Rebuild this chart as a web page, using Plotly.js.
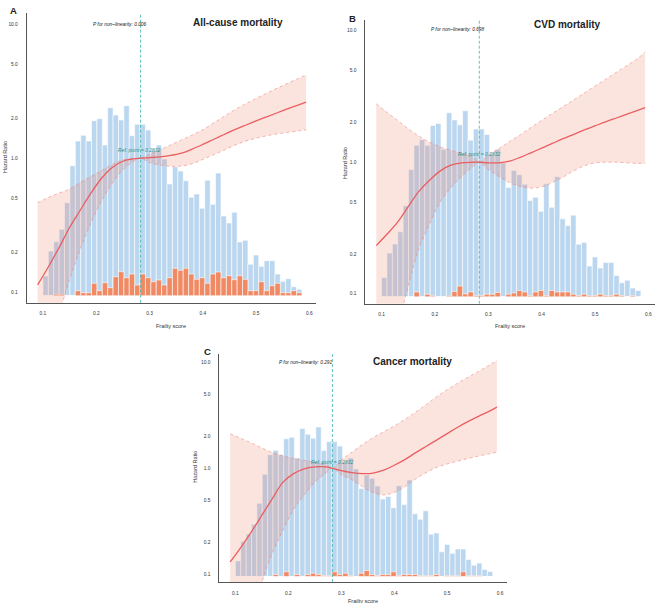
<!DOCTYPE html>
<html>
<head>
<meta charset="utf-8">
<script src="https://cdn.plot.ly/plotly-3.0.1.min.js"></script>
<style>html,body{margin:0;padding:0;background:#fff;}#chart{width:669px;height:603px;}</style>
</head>
<body>
<div id="chart"></div>
<script>
// ---------------- DATA ----------------
// Histogram of frailty score (48 bins starting at 0.10)
const binStart = 0.1;
const binWidth = 0.010125;
const totalCount = [197,447,540,664,930,1300,1547,1604,1547,1750,
  1770,1507,1880,1807,1757,1900,1600,1714,1714,1657,
  1457,1507,1367,1117,1290,1247,1150,984,1017,874,
  1154,914,1227,797,727,834,537,554,314,407,
  294,350,350,217,144,170,90,64];
const eventsAll = [0,0,14,14,0,0,50,30,30,124,
  50,130,80,190,240,180,217,107,217,180,
  140,157,107,180,274,254,274,217,164,180,
  124,217,237,180,200,160,200,164,50,50,
  140,50,100,124,30,30,50,30];
const eventsCVD = [0,0,0,0,0,0,50,0,27,10,
  0,0,10,55,110,30,50,13,13,27,
  27,45,0,27,40,65,50,13,50,65,
  13,65,50,50,50,27,13,27,13,13,
  27,13,13,27,13,0,13,0];
const eventsCancer = [0,0,0,0,0,0,0,25,0,60,
  0,25,0,25,42,25,10,10,60,25,
  42,10,0,42,76,25,10,25,25,60,
  10,25,25,25,10,10,10,25,0,10,
  10,10,60,10,10,10,0,0];

// Restricted cubic spline curves (hazard ratio + 95% CI)
const frailtyGrid = [0.09,0.11,0.13,0.15,0.17,0.19,0.21,0.23,0.25,0.27,0.2832,0.30,0.32,0.34,0.36,0.38,0.40,0.42,0.44,0.46,0.48,0.50,0.52,0.54,0.56,0.58,0.594];
const hrAll    = [0.114,0.155,0.215,0.305,0.41,0.55,0.71,0.855,0.95,0.99,1.0,1.01,1.025,1.05,1.09,1.17,1.268,1.38,1.503,1.633,1.762,1.897,2.037,2.183,2.339,2.5,2.62];
const upAll    = [0.467,0.51,0.55,0.59,0.66,0.73,0.81,0.90,0.97,1.0,1.0,1.07,1.16,1.26,1.37,1.49,1.63,1.83,2.05,2.3,2.54,2.79,3.05,3.33,3.63,3.94,4.17];
const loAll    = [0.028,0.045,0.07,0.125,0.21,0.33,0.48,0.65,0.82,0.95,1.0,0.93,0.89,0.87,0.875,0.91,0.98,1.06,1.15,1.25,1.34,1.41,1.47,1.52,1.56,1.6,1.63];
const hrCVD    = [0.232,0.283,0.35,0.46,0.60,0.73,0.86,0.95,0.99,1.0,1.0,0.99,0.99,1.02,1.09,1.18,1.28,1.39,1.51,1.63,1.76,1.89,2.03,2.17,2.32,2.48,2.6];
const upCVD    = [2.78,2.4,2.08,1.8,1.58,1.42,1.31,1.23,1.17,1.11,1.0,1.13,1.27,1.44,1.62,1.84,2.08,2.35,2.65,2.98,3.36,3.8,4.28,4.83,5.45,6.15,6.93];
const loCVD    = [0.019,0.03,0.055,0.115,0.22,0.34,0.5,0.64,0.78,0.92,1.0,0.88,0.78,0.70,0.655,0.635,0.65,0.70,0.77,0.86,0.94,0.99,1.0,1.0,0.99,0.98,0.98];
const hrCancer = [0.13,0.178,0.25,0.36,0.52,0.74,0.89,0.99,1.03,1.03,1.0,0.95,0.91,0.89,0.90,0.96,1.07,1.21,1.40,1.61,1.85,2.13,2.45,2.78,3.12,3.48,3.8];
const upCancer = [2.12,1.92,1.74,1.56,1.41,1.31,1.24,1.19,1.14,1.10,1.0,1.2,1.42,1.68,1.95,2.22,2.52,2.9,3.4,4.0,4.75,5.55,6.4,7.3,8.3,9.5,10.5];
const loCancer = [0.008,0.016,0.035,0.083,0.16,0.26,0.41,0.56,0.74,0.90,1.0,0.87,0.78,0.67,0.59,0.56,0.59,0.67,0.79,0.91,1.02,1.1,1.17,1.24,1.31,1.37,1.42];

const refPoint = 0.2832;
const refHR = 1;
const pValues = ['0.006','0.698','0.291'];
const panelTitles = ['All-cause mortality','CVD mortality','Cancer mortality'];
const panelLetters = ['A','B','C'];
const xTicks = [0.1,0.2,0.3,0.4,0.5,0.6];
const xTickText = ['0.1','0.2','0.3','0.4','0.5','0.6'];
const yTicks = [0.1,0.2,0.5,1,2,5,10];
const yTickText = ['0.1','0.2','0.5','1.0','2.0','5.0','10.0'];

// ---------------- STYLE ----------------
const FONT = 'Liberation Sans, Arial, Helvetica, sans-serif';
const BLUE = 'rgb(187,214,239)';
const ORANGE = 'rgb(240,138,100)';
const BAND = 'rgba(240,120,92,0.20)';
const BANDLINE = 'rgba(236,130,120,0.8)';
const RED = 'rgb(234,94,98)';
const TEAL = 'rgb(60,178,168)';
const TEALTXT = 'rgb(35,150,140)';
const AXIS = '#555';

const binCenters = totalCount.map((_, i) => binStart + (i + 0.5) * binWidth);

const panels = [
  {x:'x',  yb:'y',  yl:'y2', hr:hrAll, up:upAll, lo:loAll, ev:eventsAll,
   xd:[26.7,316], yd:[13,302.7]},
  {x:'x2', yb:'y3', yl:'y4', hr:hrCVD, up:upCVD, lo:loCVD, ev:eventsCVD,
   xd:[365.3,655], yd:[20,303.7]},
  {x:'x3', yb:'y5', yl:'y6', hr:hrCancer, up:upCancer, lo:loCancer, ev:eventsCancer,
   xd:[219.3,506.7], yd:[354,582]}
];
const W = 669, H = 603;

const traces = [];
const layout = {
  width: W, height: H,
  margin: {l:0, r:0, t:0, b:0},
  paper_bgcolor: 'white', plot_bgcolor: 'white',
  showlegend: false, barmode: 'overlay', bargap: 0,
  hovermode: false,
  font: {family: FONT, color: '#333'},
  shapes: [], annotations: []
};

panels.forEach((p, i) => {
  traces.push({type:'bar', x: binCenters, y: totalCount, width: binWidth,
    xaxis: p.x, yaxis: p.yb, marker: {color: BLUE, line: {color:'white', width:0.6}}});
  traces.push({type:'bar', x: binCenters, y: p.ev, width: binWidth,
    xaxis: p.x, yaxis: p.yb, marker: {color: ORANGE, line: {color:'white', width:0.6}}});
  traces.push({type:'scatter', mode:'lines', x: frailtyGrid, y: p.lo,
    xaxis: p.x, yaxis: p.yl, line: {color: BANDLINE, width: 0.7, dash: 'dot', shape:'spline', smoothing:1}});
  traces.push({type:'scatter', mode:'lines', x: frailtyGrid, y: p.up,
    xaxis: p.x, yaxis: p.yl, fill:'tonexty', fillcolor: BAND,
    line: {color: BANDLINE, width: 0.7, dash: 'dot', shape:'spline', smoothing:1}});
  traces.push({type:'scatter', mode:'lines', x: frailtyGrid, y: p.hr,
    xaxis: p.x, yaxis: p.yl, line: {color: RED, width: 1.3, shape:'spline', smoothing:1}});

  const xName = 'xaxis' + (i === 0 ? '' : (i + 1));
  const ybName = 'yaxis' + (i === 0 ? '' : (2 * i + 1));
  const ylName = 'yaxis' + (2 * i + 2);
  const xdom = [p.xd[0] / W, p.xd[1] / W];
  const ydom = [1 - p.yd[1] / H, 1 - p.yd[0] / H];
  layout[xName] = {domain: xdom, anchor: p.yb, range: [0.0695, 0.6125],
    tickvals: xTicks, ticktext: xTickText, showline: true, linecolor: AXIS, linewidth: 1,
    ticks: '', showgrid: false, zeroline: false, ticklabelstandoff: 6,
    tickfont: {family: FONT, size: 4.8, color: '#333'}, fixedrange: true};
  layout[ybName] = {domain: ydom, anchor: p.x, range: [-70, 2827], visible: false, fixedrange: true};
  layout[ylName] = {overlaying: p.yb, anchor: p.x, side: 'left', type: 'log',
    range: [-1.076, 1.082], tickvals: yTicks, ticktext: yTickText,
    showline: true, linecolor: AXIS, linewidth: 1, ticks: '', showgrid: false, zeroline: false,
    ticklabelstandoff: 7, tickfont: {family: FONT, size: 4.8, color: '#333'}, fixedrange: true};

  // reference lines
  layout.shapes.push({type:'line', layer:'above', xref: p.x + ' domain', x0: 0, x1: 1,
    yref: p.yl, y0: Math.log10(refHR), y1: Math.log10(refHR),
    line: {color: TEAL, width: 0.8, dash: '3px,2px'}});
  layout.shapes.push({type:'line', layer:'above', xref: p.x, x0: refPoint, x1: refPoint,
    yref: p.yb + ' domain', y0: 0, y1: 1,
    line: {color: TEAL, width: 0.8, dash: '3px,2px'}});
});

// ---------------- TEXT ----------------
const textPos = [
  {letter:[8,10.5], title:[238,22], p:[119,24], ref:[139,150], ylab:[5,157], xlab:[171,326]},
  {letter:[347,18.3], title:[567.3,24], p:[457,30], ref:[479,154], ylab:[345,163], xlab:[510,326]},
  {letter:[202.3,351], title:[412,361.7], p:[305.5,362.7], ref:[332,461.7], ylab:[195,466.7], xlab:[363.3,600.7]}
];
const pp = (xy) => ({x: xy[0] / W, y: 1 - xy[1] / H});
textPos.forEach((t, i) => {
  const add = (xy, text, font, extra) => {
    layout.annotations.push(Object.assign({xref:'paper', yref:'paper', x: pp(xy).x, y: pp(xy).y,
      text: text, showarrow: false, font: font, xanchor:'center', yanchor:'middle'}, extra || {}));
  };
  add(t.letter, '<b>' + panelLetters[i] + '</b>', {family: FONT, size: 9.5, color: '#222'}, {xanchor:'left'});
  add(t.title, '<b>' + panelTitles[i] + '</b>', {family: FONT, size: 10, color: '#222'});
  add(t.p, '<i>P for non\u2013linearity: ' + pValues[i] + '</i>', {family: FONT, size: 4.8, color: '#222'});
  add(t.ref, '<i>Ref. point = ' + refPoint.toFixed(4) + '</i>', {family: FONT, size: 5, color: TEALTXT});
  add(t.ylab, 'Hazard Ratio', {family: FONT, size: 5.5, color: '#333'}, {textangle: -90});
  add(t.xlab, 'Frailty score', {family: FONT, size: 5.5, color: '#333'});
});

Plotly.newPlot('chart', traces, layout, {staticPlot: true, displayModeBar: false});
</script>
</body>
</html>
